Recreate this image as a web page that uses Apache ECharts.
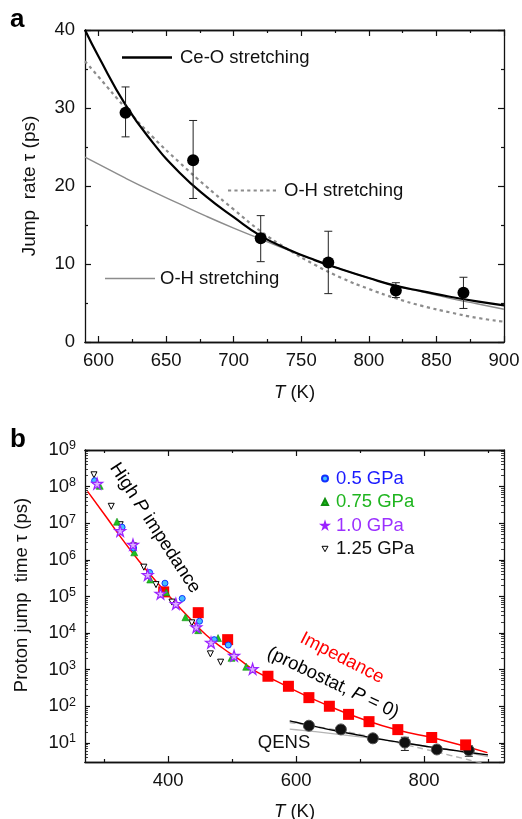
<!DOCTYPE html>
<html>
<head>
<meta charset="utf-8">
<script src="https://cdn.jsdelivr.net/npm/echarts@6/dist/echarts.min.js"></script>
<style>
  html, body { margin: 0; padding: 0; background: #fff; }
  #chart { width: 522px; height: 819px; }
</style>
</head>
<body>
<div id="chart"></div>
<script>
// ---- panel a : QENS jump times + fits ----
const qensT = [620, 670, 720, 770, 820, 870];
const qensTau = [29.4, 23.3, 13.3, 10.2, 6.6, 6.3];
const qensHi = [32.7, 28.4, 16.2, 14.2, 7.6, 8.3];
const qensLo = [26.3, 18.4, 10.3, 6.2, 5.7, 4.3];

const fitT = [590, 600, 620, 640, 660, 680, 700, 720, 740, 760, 780, 800, 820, 840, 860, 880, 900];
const ceOFit = [40, 36.6, 30.4, 25.6, 21.7, 18.6, 16.0, 13.6, 11.9, 10.5, 9.3, 8.2, 7.2, 6.5, 5.8, 5.2, 4.7];
const ohDotFit = [36, 34, 30, 26.3, 23, 19.9, 17, 14.2, 11.9, 9.9, 8.2, 6.8, 5.6, 4.6, 3.8, 3.1, 2.6];
const ohSolidFit = [23.7, 22.8, 21.0, 19.3, 17.7, 16.1, 14.6, 13.2, 11.8, 10.5, 9.3, 8.2, 7.2, 6.4, 5.6, 4.9, 4.2];

// ---- panel b : high-pressure impedance ----
const p05T = [285, 328, 346, 371, 395, 422, 449, 472, 494];
const p05Tau = [1.45e8, 7.8e6, 2.1e6, 4.5e5, 2.3e5, 8.8e4, 2.1e4, 6.6e3, 4.7e3];
const p075T = [293, 320, 347, 372, 397, 427, 447, 478, 499, 522];
const p075Tau = [1.05e8, 1.1e7, 1.6e6, 2.9e5, 1.3e5, 2.7e4, 1.2e4, 7.3e3, 2.1e3, 1.2e3];
const p10T = [289, 325, 345, 368, 388, 412, 444, 467, 503, 532];
const p10Tau = [1.2e8, 6.2e6, 2.6e6, 3.9e5, 1.2e5, 6.3e4, 1.45e4, 5.5e3, 2.4e3, 1.05e3];
const p125T = [284, 311, 325, 346, 362, 381, 406, 437, 466, 482];
const p125Tau = [2.1e8, 2.9e7, 9.1e6, 2.4e6, 6.3e5, 2.1e5, 7e4, 1.9e4, 2.7e3, 1.6e3];

// probostat impedance (P = 0)
const probT = [393, 447, 493, 556, 588, 620, 652, 682, 714, 759, 812, 865];
const probTau = [1.33e5, 3.6e4, 6.6e3, 660, 351, 172, 100, 60, 38, 23, 14, 8.8];
const impFitT = [274, 303, 329, 355, 381, 407, 433, 459, 485, 511, 537, 570, 610, 650, 700, 760, 820, 899];
const impFit = [7.4e7, 1.5e7, 3.5e6, 9e5, 2.6e5, 8e4, 2.6e4, 9e3, 3.9e3, 1.9e3, 900, 480, 214, 104, 47, 22, 13, 5.4];

// tick values
const aTicks = [600, 650, 700, 750, 800, 850, 900];
const aMinor = [625, 675, 725, 775, 825, 875];
const bTicks = [400, 600, 800];
const bMinor = [300, 500, 700, 900];

const ink = '#111';
const font = 'Liberation Sans, Arial, Helvetica, sans-serif';
const pairs = (xs, ys) => xs.map((x, i) => [x, ys[i]]);
const starPath = 'path://M50,2 L61,38 L98,38 L68,60 L79,96 L50,74 L21,96 L32,60 L2,38 L39,38 Z';

// log-space minor tick positions for panel b (2..9 per decade)
const bLogMinor = [];
for (let n = 0; n < 9; n++) {
  for (let k = 2; k < 10; k++) {
    const v = Math.log10(k * Math.pow(10, n));
    if (v > Math.log10(3) && v < 9) bLogMinor.push(v);
  }
}

function xAx(grid, position, min, max, ticks, len, label) {
  return {
    type: 'value', gridIndex: grid, position: position, min: min, max: max,
    axisLine: { show: true, onZero: false, lineStyle: { color: ink, width: 1.3 } },
    axisTick: { show: true, inside: true, length: len, customValues: ticks, lineStyle: { color: ink, width: 1.2 } },
    axisLabel: { show: label, customValues: ticks, color: ink, fontSize: 18.5, margin: 9 },
    splitLine: { show: false }
  };
}

function dashIcon() {
  let p = 'path://';
  for (let x = 0; x < 48; x += 6.5) p += 'M' + x + ',0H' + (x + 3.2) + 'V2.2H' + x + 'Z';
  return p;
}

function errBars(params, api) {
  const x = api.value(0);
  const lo = api.coord([x, api.value(1)]);
  const hi = api.coord([x, api.value(2)]);
  const st = { stroke: '#222', lineWidth: 1 };
  return {
    type: 'group',
    children: [
      { type: 'line', shape: { x1: lo[0], y1: lo[1], x2: hi[0], y2: hi[1] }, style: st },
      { type: 'line', shape: { x1: hi[0] - 4, y1: hi[1], x2: hi[0] + 4, y2: hi[1] }, style: st },
      { type: 'line', shape: { x1: lo[0] - 4, y1: lo[1], x2: lo[0] + 4, y2: lo[1] }, style: st }
    ]
  };
}
const errData = qensT.map((t, i) => [t, qensLo[i], qensHi[i]]);

const tName = {
  name: '{i|T} (K)', nameLocation: 'middle',
  nameTextStyle: { fontSize: 18.5, color: ink, rich: { i: { fontStyle: 'italic', fontSize: 18.5, color: ink } } }
};

const chart = echarts.init(document.getElementById('chart'));
chart.setOption({
  animation: false,
  backgroundColor: '#fff',
  textStyle: { fontFamily: font, color: ink },
  grid: [
    { left: 85, top: 30, width: 419, height: 312, outerBoundsMode: 'none' },
    { left: 85, top: 450, width: 419, height: 312, outerBoundsMode: 'none' }
  ],
  xAxis: [
    Object.assign(xAx(0, 'bottom', 590, 900, aTicks, 6, true), tName, { nameGap: 41 }),
    xAx(0, 'top', 590, 900, aTicks, 6, false),
    xAx(0, 'bottom', 590, 900, aMinor, 3, false),
    xAx(0, 'top', 590, 900, aMinor, 3, false),
    Object.assign(xAx(1, 'bottom', 270, 925, bTicks, 6, true), tName, { nameGap: 40 }),
    xAx(1, 'top', 270, 925, bTicks, 6, false),
    xAx(1, 'bottom', 270, 925, bMinor, 3, false),
    xAx(1, 'top', 270, 925, bMinor, 3, false)
  ],
  yAxis: [
    {
      type: 'value', gridIndex: 0, position: 'left', min: 0, max: 40, interval: 10,
      name: 'Jump  rate τ (ps)', nameLocation: 'middle', nameGap: 46, nameRotate: 90,
      nameTextStyle: { fontSize: 19, color: ink },
      axisLine: { show: true, onZero: false, lineStyle: { color: ink, width: 1.3 } },
      axisTick: { inside: true, length: 6, lineStyle: { color: ink, width: 1.2 } },
      minorTick: { show: true, splitNumber: 2, length: 3, lineStyle: { color: ink, width: 1.2 } },
      axisLabel: { color: ink, fontSize: 18.5, margin: 10 },
      splitLine: { show: false }
    },
    {
      type: 'value', gridIndex: 0, position: 'right', min: 0, max: 40, interval: 10,
      axisLine: { show: true, onZero: false, lineStyle: { color: ink, width: 1.3 } },
      axisTick: { inside: true, length: 6, lineStyle: { color: ink, width: 1.2 } },
      minorTick: { show: true, splitNumber: 2, length: 3, lineStyle: { color: ink, width: 1.2 } },
      axisLabel: { show: false },
      splitLine: { show: false }
    },
    {
      type: 'log', logBase: 10, gridIndex: 1, position: 'left', min: 3, max: 1e9,
      name: 'Proton jump  time τ (ps)', nameLocation: 'middle', nameGap: 54, nameRotate: 90,
      nameTextStyle: { fontSize: 18.5, color: ink, padding: [0, 0, 0, 22] },
      axisLine: { show: true, onZero: false, lineStyle: { color: ink, width: 1.3 } },
      axisTick: { inside: true, length: 5, lineStyle: { color: ink, width: 1.2 } },
      axisLabel: {
        showMinLabel: false, margin: 9,
        formatter: v => '{b|10}{s|' + Math.round(Math.log10(v)) + '}',
        rich: {
          b: { fontSize: 18.5, color: ink, fontFamily: font },
          s: { fontSize: 12.5, color: ink, fontFamily: font, verticalAlign: 'top', padding: [0, 0, 8, 0] }
        }
      },
      splitLine: { show: false }
    },
    {
      type: 'log', logBase: 10, gridIndex: 1, position: 'right', min: 3, max: 1e9,
      axisLine: { show: true, onZero: false, lineStyle: { color: ink, width: 1.3 } },
      axisTick: { inside: true, length: 5, lineStyle: { color: ink, width: 1.2 } },
      axisLabel: { show: false },
      splitLine: { show: false }
    },
    {
      type: 'value', gridIndex: 1, position: 'left', min: Math.log10(3), max: 9,
      axisLine: { show: false, onZero: false },
      axisTick: { show: true, inside: true, length: 3, customValues: bLogMinor, lineStyle: { color: ink, width: 0.8 } },
      axisLabel: { show: false }, splitLine: { show: false }
    },
    {
      type: 'value', gridIndex: 1, position: 'right', min: Math.log10(3), max: 9,
      axisLine: { show: false, onZero: false },
      axisTick: { show: true, inside: true, length: 3, customValues: bLogMinor, lineStyle: { color: ink, width: 0.8 } },
      axisLabel: { show: false }, splitLine: { show: false }
    }
  ],
  legend: [
    {
      data: ['Ce-O stretching'], left: 122, top: 48, padding: 0, itemWidth: 50, itemHeight: 2.4,
      icon: 'path://M0,0H50V2.4H0Z', itemStyle: { borderWidth: 0 },
      textStyle: { fontSize: 18.5, color: ink, padding: [0, 0, 0, 3] }
    },
    {
      data: ['OH dotted'], left: 228, top: 181, padding: 0, itemWidth: 48, itemHeight: 2.2,
      icon: dashIcon(), itemStyle: { borderWidth: 0 }, formatter: () => 'O-H stretching',
      textStyle: { fontSize: 18.5, color: ink, padding: [0, 0, 0, 3] }
    },
    {
      data: ['OH solid'], left: 105, top: 269, padding: 0, itemWidth: 50, itemHeight: 1.6,
      icon: 'path://M0,0H50V1.6H0Z', itemStyle: { borderWidth: 0 }, formatter: () => 'O-H stretching',
      textStyle: { fontSize: 18.5, color: ink, padding: [0, 0, 0, 0] }
    },
    {
      orient: 'vertical', left: 321, top: 469, padding: 0, itemGap: 4.5, itemWidth: 6, itemHeight: 6,
      data: [
        { name: '0.5 GPa', textStyle: { color: '#1a1aff' } },
        { name: '0.75 GPa', textStyle: { color: '#1fb51f' } },
        { name: '1.0 GPa', textStyle: { color: '#9b30ff' } },
        {
          name: '1.25 GPa', textStyle: { color: ink }, icon: 'path://M0,0L10,0L5,9Z',
          itemStyle: { color: '#fff', borderColor: '#000', borderWidth: 1 }
        }
      ],
      textStyle: { fontSize: 18.5, padding: [0, 0, 0, 3] }
    }
  ],
  graphic: [
    { type: 'text', x: 10, y: 20, style: { text: 'a', font: 'bold 26px ' + font, fill: '#000', verticalAlign: 'middle' } },
    { type: 'text', x: 10, y: 440, style: { text: 'b', font: 'bold 26px ' + font, fill: '#000', verticalAlign: 'middle' } },
    {
      type: 'text', x: 155, y: 528, rotation: -57 * Math.PI / 180,
      style: {
        text: '{n|High }{i|P}{n| impedance}', align: 'center', verticalAlign: 'middle',
        rich: {
          n: { fontSize: 18.5, fontFamily: font, color: ink },
          i: { fontSize: 18.5, fontFamily: font, fontStyle: 'italic', color: ink }
        }
      }
    },
    {
      type: 'text', x: 342, y: 658, rotation: -27 * Math.PI / 180,
      style: { text: 'Impedance', font: '18.5px ' + font, fill: '#ff0000', align: 'center', verticalAlign: 'middle' }
    },
    {
      type: 'text', x: 333, y: 683, rotation: -25.5 * Math.PI / 180,
      style: {
        text: '{n|(probostat, }{i|P}{n| = 0)}', align: 'center', verticalAlign: 'middle',
        rich: {
          n: { fontSize: 18.5, fontFamily: font, color: '#ff0000' },
          i: { fontSize: 18.5, fontFamily: font, fontStyle: 'italic', color: '#ff0000' }
        }
      }
    },
    { type: 'text', x: 284, y: 743, style: { text: 'QENS', font: '18.5px ' + font, fill: ink, align: 'center', verticalAlign: 'middle' } }
  ],
  series: [
    // ---- panel a ----
    {
      name: 'OH solid', type: 'line', xAxisIndex: 0, yAxisIndex: 0, data: pairs(fitT, ohSolidFit),
      smooth: true, symbol: 'none', itemStyle: { color: '#8c8c8c' }, lineStyle: { color: '#8c8c8c', width: 1.4 }, z: 2
    },
    {
      name: 'OH dotted', type: 'line', xAxisIndex: 0, yAxisIndex: 0, data: pairs(fitT, ohDotFit),
      smooth: true, symbol: 'none', itemStyle: { color: '#8c8c8c' }, lineStyle: { color: '#8c8c8c', width: 2.2, type: [3.2, 3.5] }, z: 2
    },
    {
      name: 'Ce-O stretching', type: 'line', xAxisIndex: 0, yAxisIndex: 0, data: pairs(fitT, ceOFit),
      smooth: true, symbol: 'none', itemStyle: { color: '#000' }, lineStyle: { color: '#000', width: 2.2 }, z: 3
    },
    {
      type: 'custom', xAxisIndex: 0, yAxisIndex: 0, data: errData, renderItem: errBars,
      encode: { x: 0, y: [1, 2] }, z: 4
    },
    {
      name: 'QENS a', type: 'scatter', xAxisIndex: 0, yAxisIndex: 0, data: pairs(qensT, qensTau),
      symbolSize: 12, itemStyle: { color: '#000', opacity: 1 }, z: 5
    },
    // ---- panel b ----
    {
      name: 'Impedance fit', type: 'line', xAxisIndex: 4, yAxisIndex: 2, data: pairs(impFitT, impFit),
      smooth: true, symbol: 'none', lineStyle: { color: '#ff0000', width: 1.5 }, z: 2
    },
    {
      name: 'OH solid b', type: 'line', xAxisIndex: 4, yAxisIndex: 2, data: pairs(fitT, ohSolidFit),
      smooth: true, symbol: 'none', lineStyle: { color: '#b4b4b4', width: 1.3 }, z: 2
    },
    {
      name: 'OH dotted b', type: 'line', xAxisIndex: 4, yAxisIndex: 2, data: pairs(fitT, ohDotFit),
      smooth: true, symbol: 'none', lineStyle: { color: '#b4b4b4', width: 1.4, type: [6, 4] }, z: 2
    },
    {
      name: 'Ce-O b', type: 'line', xAxisIndex: 4, yAxisIndex: 2, data: pairs(fitT, ceOFit),
      smooth: true, symbol: 'none', lineStyle: { color: '#000', width: 1.4 }, z: 3
    },
    {
      type: 'custom', xAxisIndex: 4, yAxisIndex: 2, data: errData, renderItem: errBars,
      encode: { x: 0, y: [1, 2] }, z: 4
    },
    {
      name: 'QENS b', type: 'scatter', xAxisIndex: 4, yAxisIndex: 2, data: pairs(qensT, qensTau),
      symbolSize: 11, itemStyle: { color: '#111', borderColor: '#555', borderWidth: 1, opacity: 1 }, z: 5
    },
    {
      name: 'Probostat', type: 'scatter', xAxisIndex: 4, yAxisIndex: 2, data: pairs(probT, probTau),
      symbol: 'rect', symbolSize: 11, itemStyle: { color: '#ff0000', opacity: 1 }, z: 5
    },
    {
      name: '1.25 GPa', type: 'scatter', xAxisIndex: 4, yAxisIndex: 2, data: pairs(p125T, p125Tau),
      symbol: 'triangle', symbolRotate: 180, symbolSize: 6,
      itemStyle: { color: '#fff', borderColor: '#000', borderWidth: 1, opacity: 1 }, z: 6
    },
    {
      name: '0.75 GPa', type: 'scatter', xAxisIndex: 4, yAxisIndex: 2, data: pairs(p075T, p075Tau),
      symbol: 'triangle', symbolSize: 7,
      itemStyle: { color: '#1fc01f', borderColor: '#0f8f0f', borderWidth: 0.6, opacity: 1 }, z: 6
    },
    {
      name: '0.5 GPa', type: 'scatter', xAxisIndex: 4, yAxisIndex: 2, data: pairs(p05T, p05Tau),
      symbol: 'circle', symbolSize: 6,
      itemStyle: { color: '#45c0ff', borderColor: '#1030ff', borderWidth: 1, opacity: 1 }, z: 6
    },
    {
      name: '1.0 GPa', type: 'scatter', xAxisIndex: 4, yAxisIndex: 2, data: pairs(p10T, p10Tau),
      symbol: starPath, symbolSize: 11,
      itemStyle: { color: '#dcb0ff', borderColor: '#9b22ff', borderWidth: 1.2, opacity: 1 }, z: 7
    }
  ]
});
</script>
</body>
</html>
